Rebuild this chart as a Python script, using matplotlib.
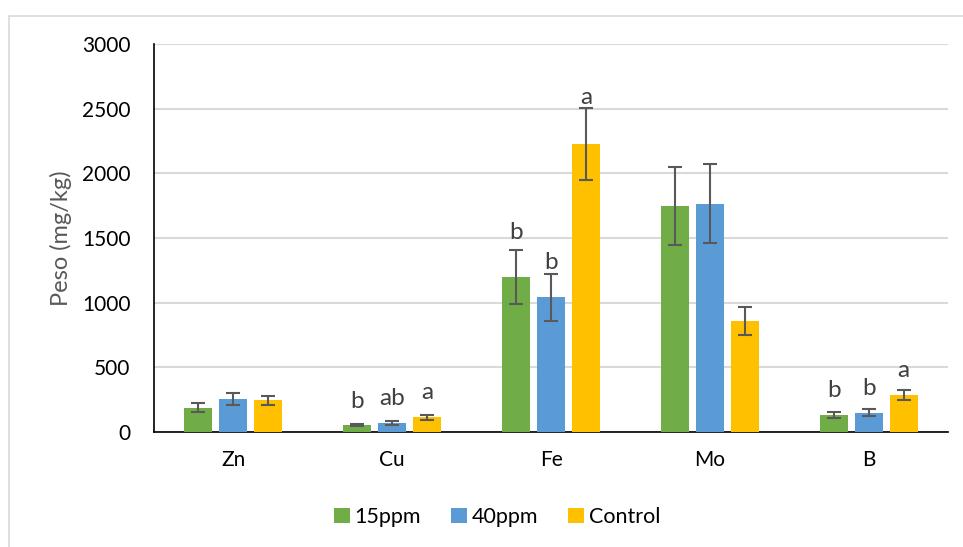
import matplotlib.pyplot as plt
import numpy as np
from matplotlib.patches import Rectangle

plt.rcParams['font.family'] = ['Lato', 'DejaVu Sans']

elementos = ['Zn', 'Cu', 'Fe', 'Mo', 'B']
series = ['15ppm', '40ppm', 'Control']

# media y desviacion por tratamiento
media_15 = [188, 54, 1201, 1747, 131]
media_40 = [253, 70, 1041, 1765, 149]
media_ctrl = [247, 113, 2225, 861, 286]

err_15 = [35, 8, 208, 304, 23]
err_40 = [47, 15, 180, 306, 26]
err_ctrl = [35, 19, 280, 108, 39]

# letras de significancia (None = sin letra)
letras_15 = [None, 'b', 'b', None, 'b']
letras_40 = [None, 'ab', 'b', None, 'b']
letras_ctrl = [None, 'a', 'a', None, 'a']

colores = ['#70AD47', '#5B9BD5', '#FFC000']

fig = plt.figure(figsize=(9.63, 5.47), dpi=100)
ax = fig.add_axes([154 / 963, 1 - 432 / 547, 794 / 963, 388 / 547])

# marco exterior del grafico
fig.patches.append(Rectangle((8.5 / 963, -0.05), 1.0, 1 - 15.5 / 547 + 0.05,
                             transform=fig.transFigure, fill=False,
                             edgecolor='#D9D9D9', linewidth=1.2))

x = np.arange(len(elementos))
ancho = 0.176
paso = 0.22

medias = [media_15, media_40, media_ctrl]
errores = [err_15, err_40, err_ctrl]
letras = [letras_15, letras_40, letras_ctrl]
# separacion de cada letra sobre la barra de error (pixeles)
sep = [[0, 16, 11, 0, 15], [0, 16, 5, 0, 14], [0, 16, 4, 0, 13]]

for i in range(3):
    pos = x + (i - 1) * paso
    ax.bar(pos, medias[i], ancho, color=colores[i], label=series[i],
           yerr=errores[i], capsize=5,
           error_kw=dict(ecolor='#595959', elinewidth=1.5, capthick=1.5),
           zorder=3)
    for j in range(len(elementos)):
        if letras[i][j]:
            ax.annotate(letras[i][j], (pos[j], medias[i][j] + errores[i][j]),
                        xytext=(0, sep[i][j] * 0.72), textcoords='offset points',
                        ha='center', va='baseline', fontsize=17.5,
                        color='#404040')

ax.set_xlim(-0.5, len(elementos) - 0.5)
ax.set_ylim(0, 3000)
ax.set_yticks(range(0, 3001, 500))
ax.set_xticks(x)
ax.set_xticklabels(elementos)
ax.tick_params(axis='both', length=0, labelsize=15, colors='black')
ax.tick_params(axis='y', pad=17)
ax.tick_params(axis='x', pad=13)

ax.grid(axis='y', color='#D9D9D9', linewidth=1.5, zorder=0)
ax.set_axisbelow(True)
for s in ['top', 'right']:
    ax.spines[s].set_visible(False)
ax.spines['left'].set_color('black')
ax.spines['bottom'].set_color('black')
ax.spines['left'].set_linewidth(1.2)
ax.spines['bottom'].set_linewidth(1.2)

ax.set_ylabel('Peso (mg/kg)', fontsize=17, color='#595959')
ax.yaxis.set_label_coords(-0.103, 0.5)

fig.legend(loc='center', bbox_to_anchor=(497 / 963, 1 - 517 / 547), ncol=3,
           frameon=False, fontsize=15.5, handlelength=0.75, handleheight=0.75,
           handletextpad=0.2, columnspacing=1.4)

fig.savefig('out.png', dpi=100)
